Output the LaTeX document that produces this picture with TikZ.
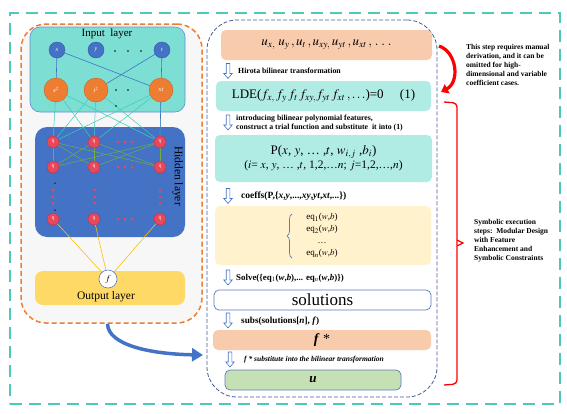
\documentclass[tikz,border=0pt]{standalone}
\usepackage{mathptmx}
\usepackage{fontspec}
\setmainfont{Liberation Serif}
\usetikzlibrary{arrows.meta,calc,decorations.pathreplacing}
\definecolor{tealo}{RGB}{78,201,185}
\definecolor{orng}{RGB}{237,125,49}
\definecolor{orngd}{RGB}{200,100,40}
\definecolor{blu}{RGB}{68,114,196}
\definecolor{blud}{RGB}{50,90,170}
\definecolor{inpc}{RGB}{125,222,212}
\definecolor{inpb}{RGB}{100,140,215}
\definecolor{neur}{RGB}{232,72,92}
\definecolor{neurd}{RGB}{190,50,70}
\definecolor{tline}{RGB}{60,205,185}
\definecolor{gline}{RGB}{112,173,71}
\definecolor{yline}{RGB}{255,192,0}
\definecolor{outc}{RGB}{255,217,102}
\definecolor{peach}{RGB}{248,203,173}
\definecolor{lteal}{RGB}{176,235,228}
\definecolor{lyel}{RGB}{255,242,204}
\definecolor{lgrn}{RGB}{197,224,180}
\definecolor{rdash}{RGB}{70,90,150}
\definecolor{bbord}{RGB}{91,123,192}
\definecolor{lgray}{RGB}{247,247,247}
\pgfdeclarelayer{bg}
\pgfdeclarelayer{lines}
\pgfsetlayers{bg,lines,main}
\tikzset{
  neuron/.style={circle, fill=neur, draw=neurd, line width=0.4, minimum size=12, inner sep=0, text=white, font=\fontsize{5}{5}\selectfont},
  inp/.style={circle, fill=blu, draw=blud, line width=0.4, minimum size=16, inner sep=0, text=white, font=\fontsize{6}{6}\selectfont\itshape},
  orn/.style={circle, fill=orng, draw=orngd, line width=0.4, minimum size=24, inner sep=0, text=white, font=\fontsize{6.5}{6.5}\selectfont\itshape},
  sdot/.style={circle, fill=neur, minimum size=3, inner sep=0},
  bdot/.style={circle, fill=black, minimum size=1.5, inner sep=0},
  kdot/.style={circle, fill=black, minimum size=1.6, inner sep=0},
  sbox/.style={rounded corners=5, inner sep=0},
  harr/.pic={\draw[blu, fill=white, line width=0.6] (-1.8,-7.5) -- (1.8,-7.5) -- (1.8,2.5) -- (4.2,2.5) -- (0,7.5) -- (-4.2,2.5) -- (-1.8,2.5) -- cycle;},
  lab/.style={anchor=west, inner sep=0, font=\fontsize{7.8}{9.5}\selectfont\bfseries},
  note/.style={anchor=north west, inner sep=0, align=left, font=\fontsize{7.5}{9}\selectfont\bfseries},
}
\begin{document}
\begin{tikzpicture}[x=1pt,y=-1pt]
\useasboundingbox (0,0) rectangle (567,413);
\begin{pgfonlayer}{bg}
% outer frame
\node[draw=tealo, line width=2, dash pattern=on 12 off 7, minimum width=550, minimum height=391, inner sep=0] (outer) at (285,208.5) {};
% left network frame
\node[draw=orng, fill=lgray, line width=1.5, dash pattern=on 5 off 3, rounded corners=25, minimum width=181, minimum height=299, inner sep=0] (nnbox) at (111.5,173.5) {};
% right frame
\node[draw=rdash, line width=0.8, dash pattern=on 4 off 2, rounded corners=30, minimum width=230, minimum height=377, inner sep=0] (rbox) at (322,208.5) {};
% layers
\node[fill=inpc, draw=inpb, line width=0.6, rounded corners=10, minimum width=155, minimum height=85, inner sep=0] (inbox) at (107.5,69.5) {};
\node[fill=blu, rounded corners=12, minimum width=150, minimum height=110, inner sep=0] (hbox) at (110,182) {};
\node[fill=outc, rounded corners=8, minimum width=150, minimum height=34, inner sep=0] (obox) at (110,288) {};
\end{pgfonlayer}

\node[font=\fontsize{11}{11}\selectfont] (intitle) at (107,34) {Input\ \ layer};
\node[rotate=-90, font=\fontsize{11.5}{11.5}\selectfont] (htitle) at (177.5,176) {Hidden layer};
\node[font=\fontsize{11.5}{11.5}\selectfont] (otitle) at (106,297) {Output layer};

% input nodes
\node[inp] (ix) at (57,50) {x};
\node[inp] (iy) at (96,50) {y};
\node[inp] (it) at (162,50) {t};
\node[kdot] (d1) at (115,51) {};
\node[kdot] (d2) at (128,51) {};
\node[kdot] (d3) at (141,51) {};
\node[orn] (ox) at (56,90) {x$^2$};
\node[orn] (ot) at (96,90) {t$^2$};
\node[orn] (oxt) at (161,90) {xt};
\node[kdot] (d4) at (116,90) {};
\node[kdot] (d5) at (128,90) {};
\node[kdot] (d6) at (116,106) {};

% hidden neurons
\foreach \r/\y in {1/142,2/167,4/219}{
  \node[neuron] (h\r1) at (53,\y) {$\eta$};
  \node[neuron] (h\r2) at (94,\y) {$\eta$};
  \node[neuron] (h\r3) at (160,\y) {$\eta$};
  \foreach \k/\x in {a/118,b/125,c/132}{\node[sdot] (s\r\k) at (\x,\y) {};}
}
\foreach \c/\x in {1/53,2/95,3/160}{
  \foreach \k/\y in {a/190,b/197,c/203}{\node[sdot] (v\c\k) at (\x,\y) {};}
}
\node[bdot] (k1) at (55,183) {};
\node[bdot] (k2) at (55,210) {};

% output neuron
\node[circle, draw=bbord, fill=white, line width=0.6, minimum size=18, inner sep=0, font=\fontsize{9}{9}\selectfont] (fo) at (108,279) {$f$};

\begin{pgfonlayer}{lines}
\draw[blu, line width=0.6] (ix) -- (ox);
\draw[blu, line width=0.6] (ix) -- (oxt);
\draw[blu, line width=0.6] (it) -- (ot);
\draw[blu, line width=0.6] (it) -- (oxt);
\foreach \a in {ox,ot,oxt}{
  \foreach \b in {h11,h12,h13}{\draw[tline, line width=0.5] (\a) -- (\b);}
}
\draw[blu, line width=0.6] (oxt) -- (h13);
\foreach \a in {h11,h12,h13}{
  \foreach \b in {h21,h22,h23}{\draw[gline, line width=0.5] (\a) -- (\b);}
}
\foreach \a in {h41,h42,h43}{\draw[yline, line width=0.6] (\a) -- (fo);}
\end{pgfonlayer}

% big blue arrow
\coordinate (arrEnd) at (203,355);
\draw[blu, line width=3.5, -{Triangle[length=11,width=13]}] ([xshift=-4]nnbox.south) .. controls (108,345) and (150,354) .. (arrEnd);

% right column boxes
\node[sbox, fill=peach, minimum width=211, minimum height=30, font=\fontsize{13}{13}\selectfont] (b1) at (326.5,45)
  {$u_{x,}\;u_{y}\,,u_{t}\,,u_{xy,}\,u_{yt}\,,u_{xt}\,,\,.\;.\;.$};
\node[sbox, fill=lteal, minimum width=215, minimum height=30, font=\fontsize{13}{13}\selectfont] (b2) at (323.5,96)
  {LDE($f_{x,}\,f_y\,f_t\,f_{xy,}f_{yt}\,f_{xt}\,,.\,.\,.$)=0\quad\ (1)};
\node[sbox, fill=lteal, minimum width=217, minimum height=47, align=center, font=\fontsize{13}{15}\selectfont] (b3) at (323.5,158.5)
  {P($x$, $y$, … ,$t$, $w_{i,j}$ ,$b_i$)\\[-1pt]{\fontsize{11.5}{13}\selectfont($i$= $x$, $y$, … ,$t$, 1,2,…$n$; $j$=1,2,…,$n$)}};
\node[sbox, fill=lyel, minimum width=216, minimum height=59] (b4) at (323,235.5) {};
\node[align=center, inner sep=0, font=\fontsize{9}{12}\selectfont] (eqs) at (322,235.5)
  {eq$_1$($w$,$b$)\\eq$_2$($w$,$b$)\\…\\eq$_n$($w$,$b$)};
\draw[bbord, line width=0.7, decorate, decoration={brace, amplitude=5}] (292,258) -- (292,214);
\node[sbox, fill=white, draw=bbord, line width=0.7, minimum width=217, minimum height=20, font=\fontsize{17}{17}\selectfont] (b5) at (322.5,300) {solutions};
\node[sbox, fill=peach, minimum width=218, minimum height=20, font=\fontsize{14}{14}\selectfont] (b6) at (322,340) {\textbf{\textit{f}} *};
\node[sbox, fill=lgrn, draw=bbord, line width=0.7, minimum width=176, minimum height=20, font=\fontsize{13}{13}\selectfont] (b7) at (313,380) {\textbf{\textit{u}}};

% hollow arrows
\pic (a1) at (228,71) {harr};
\pic (a2) at (228,122.5) {harr};
\pic (a3) at (228,196) {harr};
\pic (a4) at (228,277.5) {harr};
\pic (a5) at (228,320.5) {harr};
\pic (a6) at (230,359.5) {harr};

% labels
\node[lab] (l1) at (238,71) {Hirota bilinear transformation};
\node[lab, align=left] (l2) at (236,123) {introducing bilinear polynomial features,\\construct a trial function and substitute \ it into (1)};
\node[lab, font=\fontsize{9.5}{10}\selectfont\bfseries] (l3) at (241,196) {coeffs(P,\{\textit{x},\textit{y},...,\textit{xy},\textit{yt},\textit{xt},...\})};
\node[lab, font=\fontsize{8.9}{10}\selectfont\bfseries] (l4) at (236,278) {Solve(\{eq$_1$(\textit{w},\textit{b}),... eq$_n$(\textit{w},\textit{b})\})};
\node[lab, font=\fontsize{9.2}{10}\selectfont\bfseries] (l5) at (241,321) {subs(solutions[\textit{n}], \textit{f})};
\node[lab, font=\fontsize{7.5}{9}\selectfont\bfseries\itshape] (l6) at (244,360) {f * substitute into the bilinear transformation};

% right annotations
\coordinate (redA) at (439,46);
\coordinate (redB) at (441,92);
\draw[red, line width=3.2, -{Triangle[length=7,width=10]}] (redA) .. controls (457,52) and (460,82) .. (redB);
\node[note] (n1) at (466,44) {This step requires manual\\derivation, and it can be\\omitted for high-\\dimensional and variable\\coefficient cases.};

\coordinate (brT) at (444,102);
\coordinate (brB) at (444,385);
\draw[red, line width=1.3, rounded corners=4] (brT) -- (457,103) -- (457,384) -- (brB);
\draw[red, line width=1.3] (457,240) -- (463,243) -- (457,246);
\node[note] (n2) at (474,219) {Symbolic execution\\steps:\ \ Modular Design\\with Feature\\Enhancement and\\Symbolic Constraints};
\end{tikzpicture}
\end{document}
